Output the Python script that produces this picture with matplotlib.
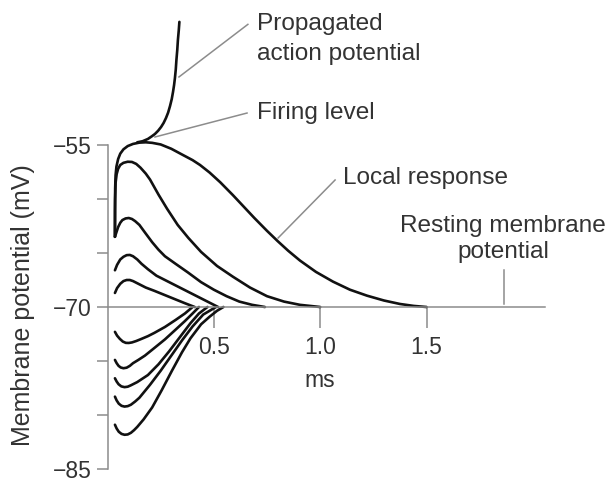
import matplotlib.pyplot as plt
from matplotlib.ticker import FixedLocator

plt.rcParams['font.family'] = ['Liberation Sans', 'DejaVu Sans']

# traces: time in ms, potential in mV
ap_t = [0.14, 0.165, 0.190, 0.208, 0.223, 0.238, 0.252, 0.264, 0.275, 0.285, 0.294, 0.302,
        0.308, 0.313, 0.317, 0.321, 0.324, 0.328, 0.331, 0.335, 0.338]
ap_v = [-54.75, -54.65, -54.44, -54.2, -53.98, -53.68, -53.33, -52.95, -52.5, -52.0, -51.39, -50.75,
        -50.09, -49.45, -48.8, -48.0, -47.13, -46.2, -45.28, -44.4, -43.6]

lr1_t = [0.035, 0.035, 0.036, 0.038, 0.042, 0.05, 0.06, 0.075, 0.095, 0.12, 0.15, 0.18, 0.21, 0.25,
         0.30, 0.355, 0.40, 0.435, 0.48, 0.53, 0.59, 0.64, 0.69, 0.75, 0.80, 0.85, 0.905, 0.98,
         1.06, 1.14, 1.22, 1.30, 1.375, 1.44, 1.50]
lr1_v = [-63.5, -61.0, -59.0, -57.8, -57.0, -56.3, -55.8, -55.4, -55.1, -54.9, -54.78, -54.75, -54.8, -54.95,
         -55.35, -55.93, -56.4, -56.85, -57.55, -58.45, -59.65, -60.7, -61.75, -62.95, -63.9, -64.8, -65.7, -66.75,
         -67.65, -68.4, -68.95, -69.4, -69.72, -69.9, -70.0]

lr2_t = [0.035, 0.036, 0.038, 0.043, 0.05, 0.06, 0.075, 0.095, 0.115, 0.135, 0.155, 0.18, 0.20, 0.22,
         0.24, 0.28, 0.33, 0.38, 0.44, 0.515, 0.59, 0.67, 0.75, 0.83, 0.905, 1.0]
lr2_v = [-63.5, -60.0, -58.5, -57.7, -57.2, -56.85, -56.65, -56.55, -56.57, -56.75, -57.1, -57.65, -58.2, -58.9,
         -59.6, -60.9, -62.4, -63.6, -64.9, -66.2, -67.2, -68.2, -69.0, -69.5, -69.8, -70.0]

lr3_t = [0.035, 0.04, 0.05, 0.06, 0.07, 0.085, 0.10, 0.115, 0.13, 0.15, 0.176, 0.21, 0.24, 0.27,
         0.32, 0.378, 0.44, 0.50, 0.56, 0.62, 0.68, 0.74]
lr3_v = [-63.5, -63.2, -62.6, -62.2, -61.95, -61.8, -61.76, -61.85, -62.05, -62.4, -63.1, -64.0, -64.7, -65.3,
         -66.0, -66.8, -67.7, -68.4, -69.0, -69.5, -69.8, -70.0]

lr4_t = [0.035, 0.045, 0.06, 0.075, 0.09, 0.105, 0.12, 0.14, 0.16, 0.19, 0.23, 0.30, 0.36, 0.425,
         0.47, 0.52]
lr4_v = [-66.6, -66.1, -65.6, -65.35, -65.2, -65.18, -65.3, -65.6, -66.0, -66.5, -67.1, -67.8, -68.4, -69.05,
         -69.5, -70.0]

lr5_t = [0.035, 0.045, 0.06, 0.075, 0.09, 0.105, 0.12, 0.15, 0.18, 0.22, 0.27, 0.32, 0.364, 0.41]
lr5_v = [-68.7, -68.25, -67.85, -67.6, -67.5, -67.5, -67.6, -67.9, -68.2, -68.5, -68.9, -69.3, -69.65, -70.0]

hp1_t = [0.035, 0.045, 0.058, 0.072, 0.086, 0.10, 0.115, 0.135, 0.16, 0.19, 0.22, 0.27, 0.32, 0.364, 0.40]
hp1_v = [-72.3, -72.65, -72.95, -73.2, -73.32, -73.33, -73.28, -73.15, -72.95, -72.7, -72.4, -71.85, -71.2,
         -70.6, -70.0]

hp2_t = [0.035, 0.043, 0.052, 0.062, 0.075, 0.09, 0.105, 0.12, 0.145, 0.176, 0.22, 0.27, 0.32, 0.364,
         0.40, 0.43]
hp2_v = [-74.9, -75.2, -75.45, -75.6, -75.67, -75.62, -75.45, -75.2, -74.9, -74.5, -73.8, -73.0, -72.1, -71.3,
         -70.6, -70.0]

hp3_t = [0.035, 0.043, 0.052, 0.065, 0.08, 0.095, 0.11, 0.14, 0.19, 0.24, 0.29, 0.34, 0.39, 0.43, 0.47]
hp3_v = [-76.6, -76.9, -77.15, -77.35, -77.42, -77.38, -77.25, -76.95, -76.3, -75.3, -74.1, -72.8, -71.5,
         -70.6, -70.0]

hp4_t = [0.035, 0.043, 0.053, 0.066, 0.08, 0.095, 0.11, 0.13, 0.15, 0.20, 0.25, 0.30, 0.35, 0.40, 0.45, 0.51]
hp4_v = [-78.3, -78.65, -78.95, -79.15, -79.22, -79.18, -79.05, -78.75, -78.4, -77.2, -75.9, -74.5, -73.1,
         -71.8, -70.7, -70.0]

hp5_t = [0.035, 0.043, 0.053, 0.066, 0.08, 0.095, 0.11, 0.125, 0.14, 0.17, 0.21, 0.255, 0.303, 0.35,
         0.39, 0.44, 0.48, 0.515, 0.545]
hp5_v = [-80.9, -81.25, -81.55, -81.75, -81.83, -81.8, -81.65, -81.4, -81.1, -80.4, -79.3, -77.7, -75.9,
         -74.2, -72.9, -71.6, -70.9, -70.35, -70.0]

traces = [(lr1_t, lr1_v), (lr2_t, lr2_v), (lr3_t, lr3_v), (lr4_t, lr4_v), (lr5_t, lr5_v),
          (hp1_t, hp1_v), (hp2_t, hp2_v), (hp3_t, hp3_v), (hp4_t, hp4_v), (hp5_t, hp5_v),
          (ap_t, ap_v)]

y_major = [-85, -70, -55]
y_minor = [-80, -75, -65, -60]
y_labels = ['\u221285', '\u221270', '\u221255']
x_major = [0.5, 1.0, 1.5]
x_labels = ['0.5', '1.0', '1.5']

grey = '#8c8c8c'
txt = '#333333'
fs = 16.5      # tick labels
fs_note = 17.6  # annotations

fig = plt.figure(figsize=(6.09, 4.82), dpi=100)
ax = fig.add_axes([107.5 / 609, 13 / 482, 450 / 609, 469 / 482])
ax.set_xlim(0, 450 / 212.7)
ax.set_ylim(-85, -85 + 469 / 10.8)

for t, v in traces:
    ax.plot(t, v, color='#111111', lw=1.9, solid_capstyle='round', solid_joinstyle='round')

# axes styling
for s in ['top', 'right']:
    ax.spines[s].set_visible(False)
ax.spines['left'].set_bounds(-85, -55)
ax.spines['left'].set_color(grey)
ax.spines['left'].set_linewidth(1.1)
ax.spines['bottom'].set_position(('data', -70))
ax.spines['bottom'].set_bounds(0, 2.057)
ax.spines['bottom'].set_color(grey)
ax.spines['bottom'].set_linewidth(1.1)

ax.set_yticks(y_major)
ax.set_yticklabels(y_labels)
ax.yaxis.set_minor_locator(FixedLocator(y_minor))
ax.tick_params(axis='y', which='both', direction='out', length=8, width=1.1, color=grey,
               labelsize=fs, labelcolor=txt, pad=3.5)
ax.set_xticks(x_major)
ax.set_xticklabels(x_labels)
ax.tick_params(axis='x', direction='out', length=15, width=1.1, color=grey,
               labelsize=fs, labelcolor=txt, pad=6)

fig.text(23 / 609, 1 - 305 / 482, 'Membrane potential (mV)', rotation=90, ha='center', va='center',
         fontsize=18, color=txt)
ax.text(1.0, -77.41, 'ms', ha='center', va='baseline', fontsize=fs, color=txt)

# labels with pointer lines
ax.text(0.703, -44.35, 'Propagated', ha='left', va='baseline', fontsize=fs_note, color=txt)
ax.text(0.703, -47.13, 'action potential', ha='left', va='baseline', fontsize=fs_note, color=txt)
ax.plot([0.336, 0.660], [-48.70, -43.83], color=grey, lw=1.1)

ax.text(0.703, -52.59, 'Firing level', ha='left', va='baseline', fontsize=fs_note, color=txt)
ax.plot([0.223, 0.656], [-54.26, -52.04], color=grey, lw=1.1)

ax.text(1.107, -58.61, 'Local response', ha='left', va='baseline', fontsize=fs_note, color=txt)
ax.plot([0.802, 1.07], [-63.61, -58.24], color=grey, lw=1.1)

ax.text(1.859, -63.06, 'Resting membrane', ha='center', va='baseline', fontsize=fs_note, color=txt)
ax.text(1.859, -65.46, 'potential', ha='center', va='baseline', fontsize=fs_note, color=txt)
ax.plot([1.864, 1.864], [-66.57, -69.72], color=grey, lw=1.1)

fig.savefig('out.png', dpi=100)
